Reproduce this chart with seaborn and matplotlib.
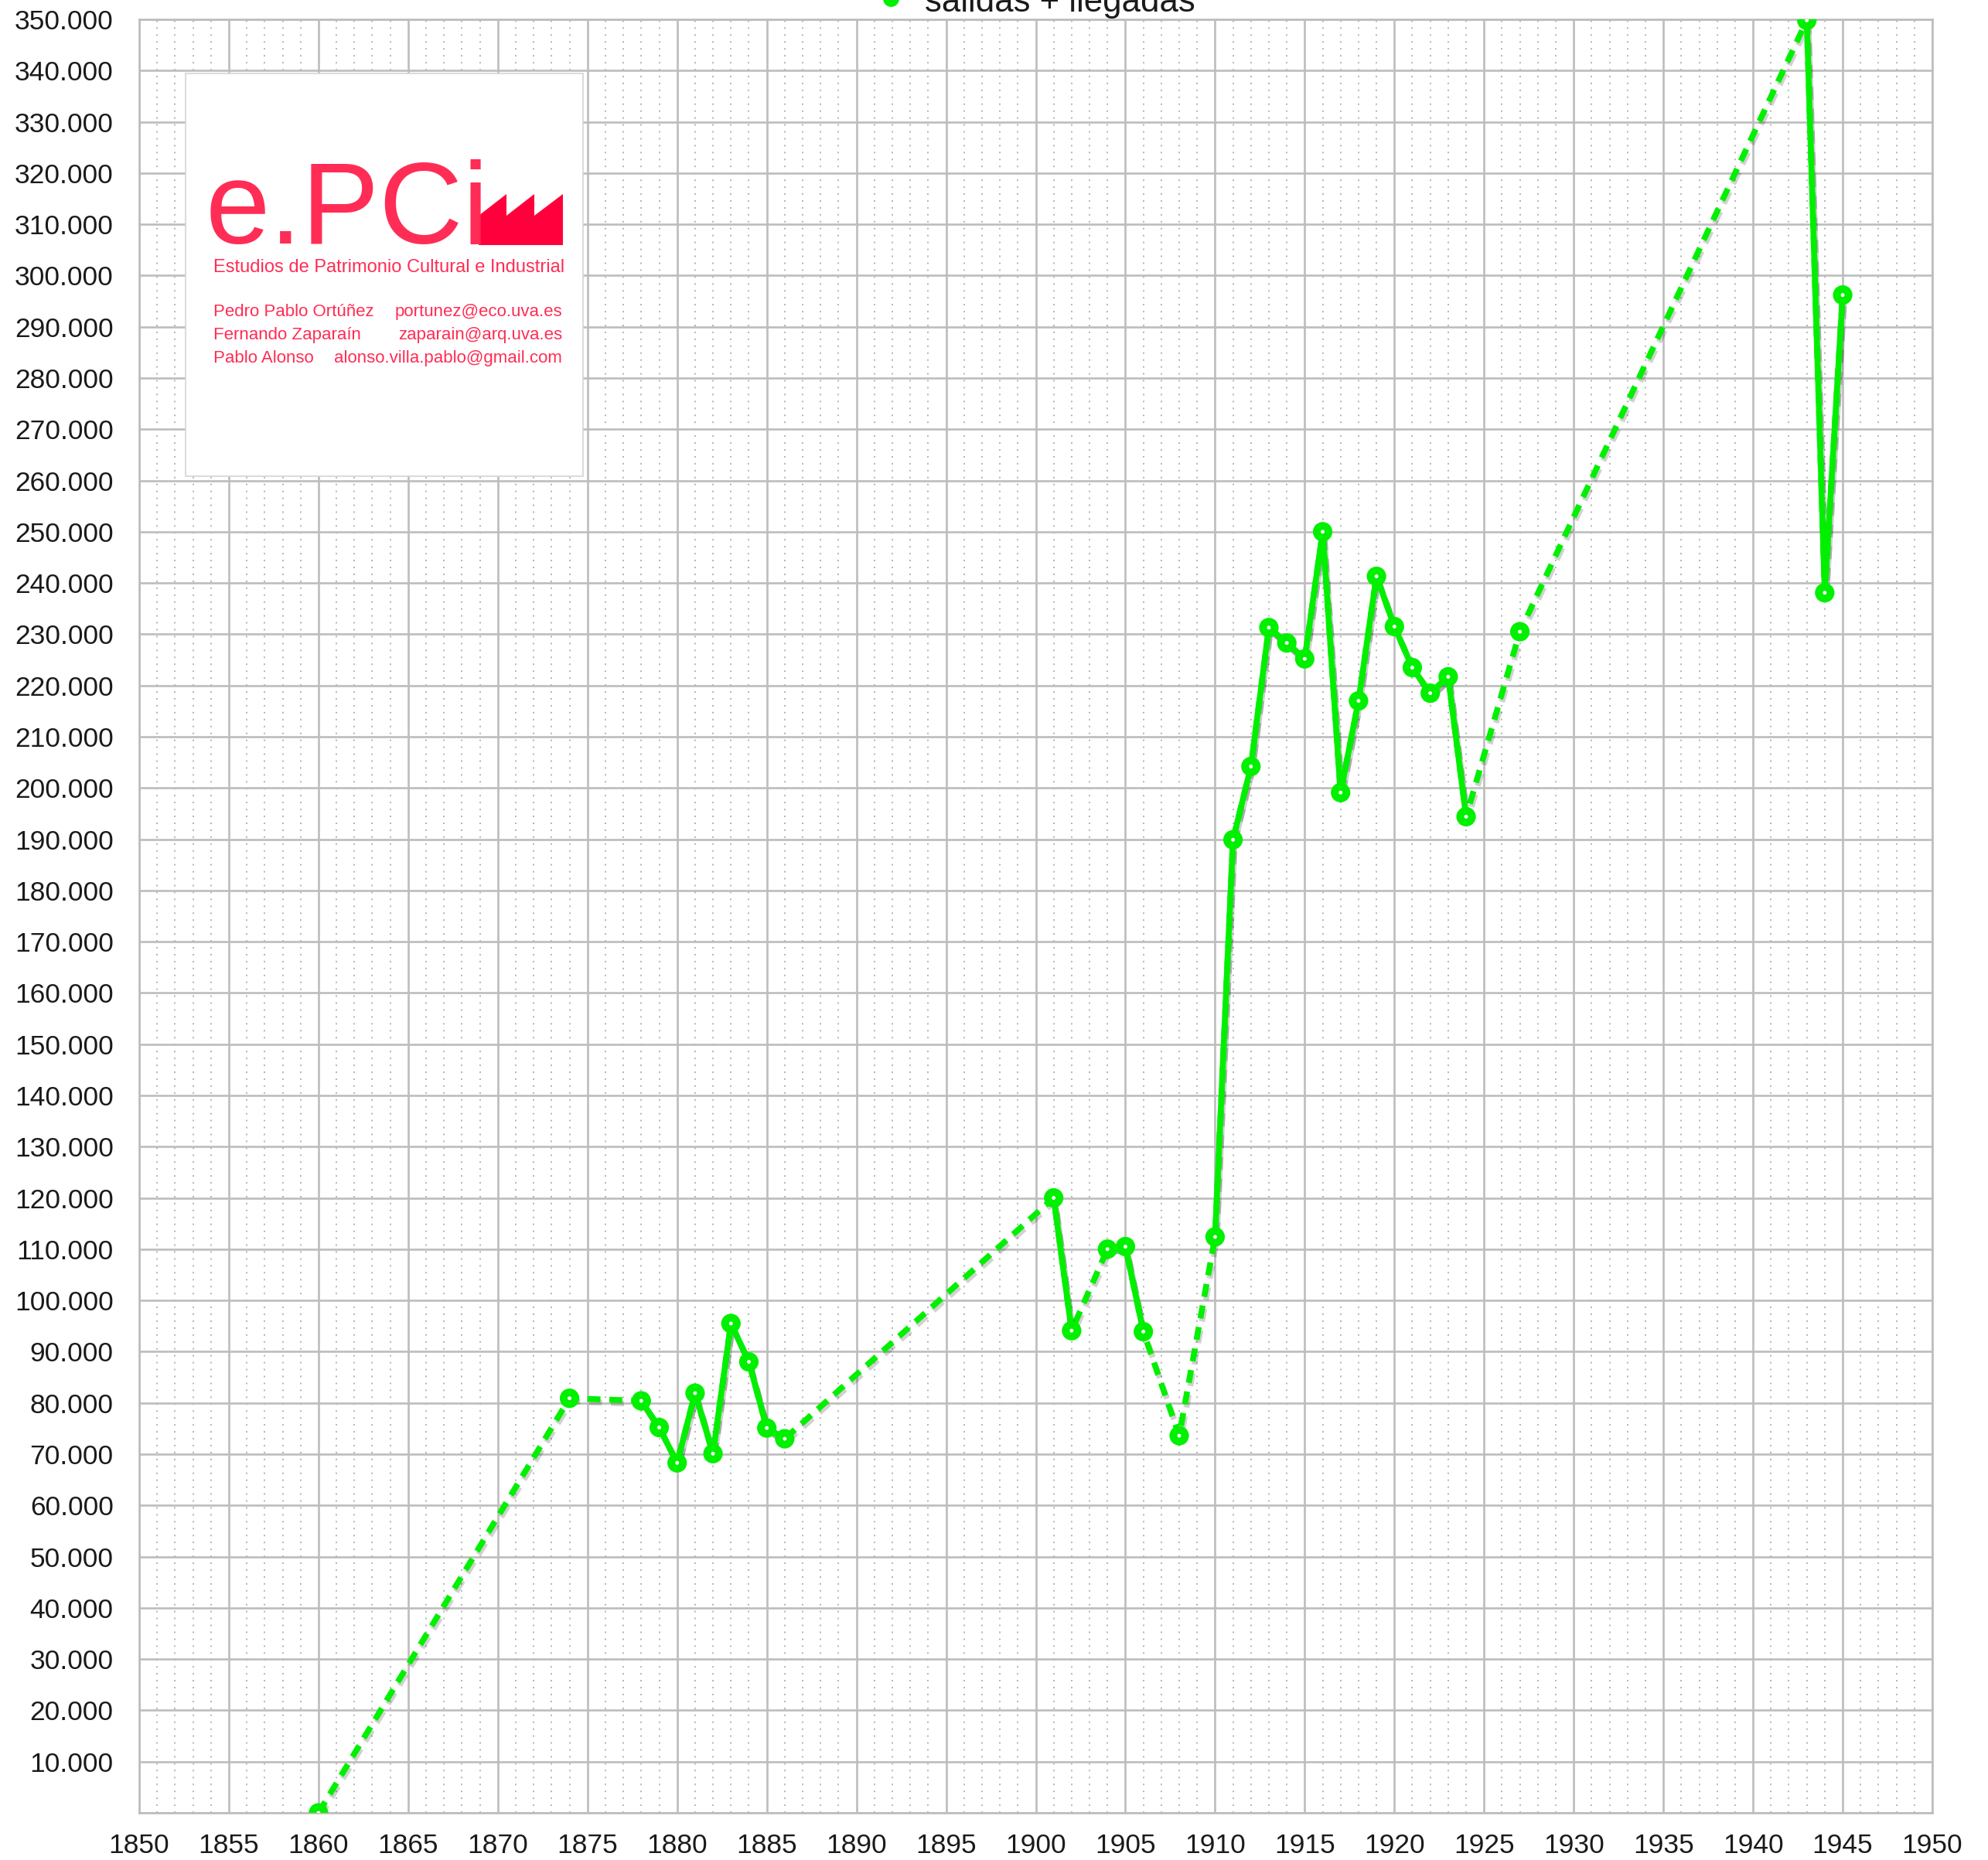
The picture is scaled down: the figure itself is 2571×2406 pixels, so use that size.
import pandas as pd
import numpy as np
import matplotlib
matplotlib.use("Agg")
import matplotlib.pyplot as plt
import matplotlib.patheffects as pe
from matplotlib.lines import Line2D
from matplotlib.patches import Rectangle, Polygon
from matplotlib.ticker import MultipleLocator, FuncFormatter
import seaborn as sns

# data (passengers, salidas + llegadas)
years = [1860, 1874, 1878, 1879, 1880, 1881, 1882, 1883, 1884, 1885, 1886,
         1901, 1902, 1904, 1905, 1906, 1908,
         1910, 1911, 1912, 1913, 1914, 1915, 1916, 1917, 1918, 1919, 1920,
         1921, 1922, 1923, 1924, 1927, 1943, 1944, 1945]
values = [0, 80900, 80400, 75200, 68300, 81900, 70100, 95500, 88000, 75100, 73000,
          120000, 94100, 110000, 110500, 93900, 73600,
          112400, 189900, 204200, 231300, 228300, 225200, 250000, 199100, 217000, 241300, 231500,
          223500, 218500, 221700, 194400, 230500, 349800, 238100, 296200]
series_label = "salidas + llegadas"

logo_title = "e.PCi"
logo_subtitle = "Estudios de Patrimonio Cultural e Industrial"
logo_names = ["Pedro Pablo Ortúñez", "Fernando Zaparaín", "Pablo Alonso"]
logo_mails = ["portunez@eco.uva.es", "zaparain@arq.uva.es", "alonso.villa.pablo@gmail.com"]

W, H = 2571, 2406
GREEN = "#00f000"
GRID = "#bdbdbd"
PINK = "#ff2d55"


def fx(px):
    return px / W


def fy(py):
    return 1 - py / H


df = pd.DataFrame({"year": years, "value": values})
# consecutive years form a solid run, gaps get a dashed connection
df["run"] = (df["year"].diff() != 1).cumsum()

sns.set_style("white")
plt.rcParams["font.family"] = ["Liberation Sans", "DejaVu Sans"]

fig = plt.figure(figsize=(W / 100, H / 100), dpi=100)
ax = fig.add_axes([fx(180), fy(2345), fx(2499) - fx(180), fy(25) - fy(2345)])

shadow = [pe.SimpleLineShadow(offset=(1.5, -3), shadow_color="black", alpha=0.18), pe.Normal()]

# dashed line through every point
sns.lineplot(data=df, x="year", y="value", ax=ax, color=GREEN, lw=5.5,
             linestyle=(0, (2.2, 1.5)), sort=True, zorder=4)
# solid runs of consecutive years
sns.lineplot(data=df, x="year", y="value", units="run", estimator=None, ax=ax,
             color=GREEN, lw=5.5, zorder=5)
for ln in ax.lines:
    ln.set_path_effects(shadow)

sns.scatterplot(data=df, x="year", y="value", ax=ax, color="white",
                edgecolor=GREEN, linewidth=7.2, s=120, zorder=6)
ax.collections[-1].set_path_effects(
    [pe.SimplePatchShadow(offset=(1.5, -3), alpha=0.18), pe.Normal()])

ax.set_xlim(1850, 1950)
ax.set_ylim(0, 350000)
ax.xaxis.set_major_locator(MultipleLocator(5))
ax.xaxis.set_minor_locator(MultipleLocator(1))
ax.yaxis.set_major_locator(MultipleLocator(10000))
ax.yaxis.set_major_formatter(FuncFormatter(
    lambda v, p: "" if v <= 0 else f"{v:,.0f}".replace(",", ".")))

ax.grid(which="major", color=GRID, lw=1.9)
ax.grid(which="minor", axis="x", color="#b3b3b3", lw=1.4, linestyle=(0, (1, 3.6)))
ax.set_axisbelow(True)
for sp in ax.spines.values():
    sp.set_color(GRID)
    sp.set_linewidth(1.9)

ax.tick_params(axis="y", which="both", length=0, pad=24, labelsize=25.5, labelcolor="#1a1a1a")
ax.tick_params(axis="x", which="both", length=0, pad=19, labelsize=25.5, labelcolor="#1a1a1a")
ax.set_xlabel("")
ax.set_ylabel("")
if ax.get_legend():
    ax.get_legend().remove()

# legend, cut by the top edge as in the original
fig.add_artist(Line2D([fx(1152)], [fy(-2)], marker="o", color=GREEN, ms=14,
                      transform=fig.transFigure))
fig.text(fx(1196), fy(15), series_label, fontsize=31.5, color="#1a1a1a",
         ha="left", va="baseline")

# logo box
fig.add_artist(Rectangle((fx(240), fy(616)), fx(754) - fx(240), fy(95) - fy(616),
                         transform=fig.transFigure, facecolor="white",
                         edgecolor="#d4d4d4", lw=1.2, zorder=3))
fig.text(fx(266), fy(315), logo_title, fontsize=108, color=PINK,
         ha="left", va="baseline", zorder=4)
factory = [(619, 317), (619, 279), (655, 251), (655, 279), (691, 251), (691, 279),
           (728, 251), (728, 317)]
fig.add_artist(Polygon([(fx(a), fy(b)) for a, b in factory], closed=True,
                       transform=fig.transFigure, facecolor="#ff003c",
                       edgecolor="none", zorder=4))
fig.text(fx(276), fy(352), logo_subtitle, fontsize=17, color=PINK,
         ha="left", va="baseline", zorder=4)
for i, (name, mail) in enumerate(zip(logo_names, logo_mails)):
    yb = 409 + i * 30
    fig.text(fx(276), fy(yb), name, fontsize=16.0, color=PINK,
             ha="left", va="baseline", zorder=4)
    fig.text(fx(727), fy(yb), mail, fontsize=16.0, color=PINK,
             ha="right", va="baseline", zorder=4)

fig.savefig("out.png", dpi=100)
